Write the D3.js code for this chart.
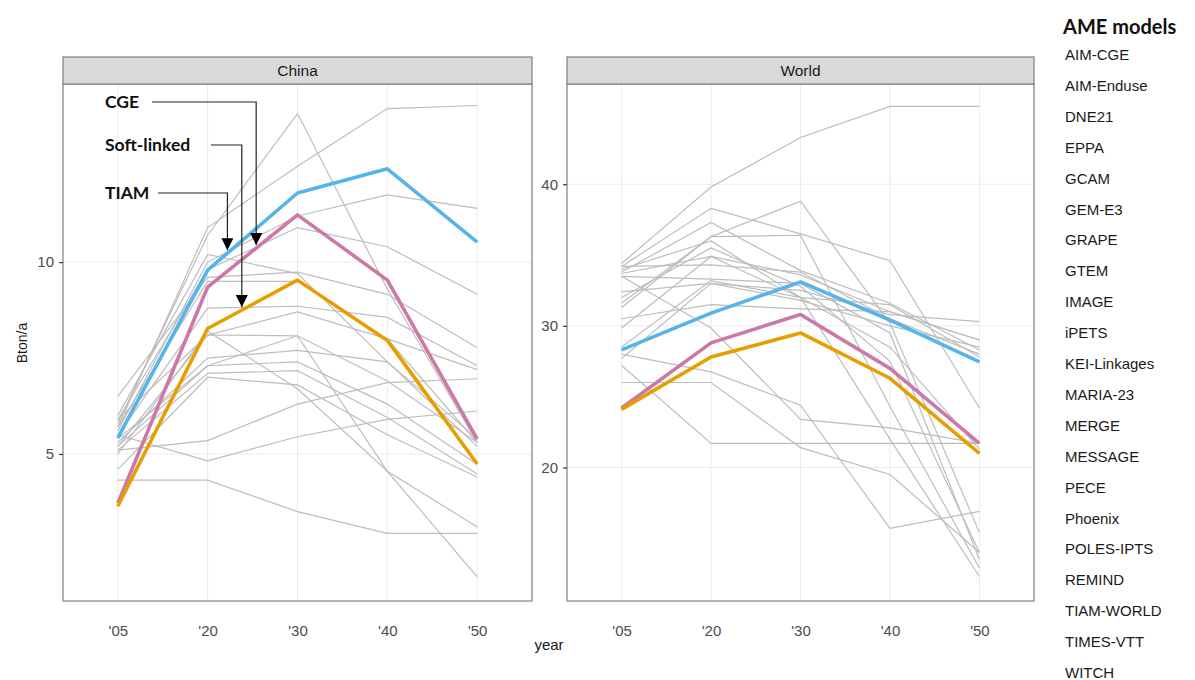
<!DOCTYPE html>
<html>
<head>
<meta charset="utf-8">
<script src="https://cdn.jsdelivr.net/npm/d3@7"></script>
<style>
  html, body { margin: 0; padding: 0; background: #fff; }
  svg { display: block; }
</style>
</head>
<body>
<svg id="chart" width="1195" height="680"></svg>
<script>
// ---------------- DATA ----------------
const years = ["'05", "'20", "'30", "'40", "'50"];
const panels = ["China", "World"];
const models = ["AIM-CGE", "AIM-Enduse", "DNE21", "EPPA", "GCAM", "GEM-E3", "GRAPE", "GTEM",
  "IMAGE", "iPETS", "KEI-Linkages", "MARIA-23", "MERGE", "MESSAGE", "PECE", "Phoenix",
  "POLES-IPTS", "REMIND", "TIAM-WORLD", "TIMES-VTT", "WITCH"];
const highlightNames = ["TIAM", "CGE", "Soft-linked"];

const chinaTicks = [5, 10];
const worldTicks = [20, 30, 40];

// highlighted series (Bton/a)
const chinaTIAM = [5.42, 9.79, 11.80, 12.43, 10.52];
const chinaCGE = [3.72, 9.35, 11.23, 9.53, 5.39];
const chinaSoft = [3.64, 8.27, 9.53, 7.96, 4.74];
const worldTIAM = [28.3, 30.9, 33.1, 30.4, 27.45];
const worldCGE = [24.2, 28.8, 30.8, 27.0, 21.7];
const worldSoft = [24.1, 27.8, 29.5, 26.3, 21.0];

// AME model ranges (grey lines)
const chinaGrey = [
  [5.7, 10.9, 12.5, 14.0, 14.08],
  [5.8, 10.7, 13.87, 9.3, 5.3],
  [5.6, 10.0, 11.2, 11.75, 11.4],
  [5.9, 9.8, 10.9, 10.4, 9.16],
  [6.5, 9.6, 9.74, 9.16, 7.77],
  [5.7, 9.5, 9.5, 8.0, 5.3],
  [5.5, 8.8, 8.85, 8.56, 7.3],
  [5.9, 8.1, 8.7, 8.0, 7.2],
  [5.4, 7.3, 8.08, 6.9, 5.3],
  [5.3, 7.5, 7.7, 7.4, 5.2],
  [5.2, 7.3, 7.4, 6.3, 4.73],
  [5.1, 7.1, 7.17, 5.95, 4.48],
  [5.0, 8.2, 6.7, 4.55, 3.1],
  [5.2, 8.1, 8.08, 4.55, 1.8],
  [5.1, 5.35, 6.3, 6.86, 6.96],
  [5.5, 4.82, 5.45, 5.9, 6.12],
  [4.32, 4.32, 3.5, 2.93, 2.93],
  [4.6, 7.0, 6.8, 5.5, 4.4],
  [6.0, 10.2, 9.7, 7.4, 5.4]
];
const worldGrey = [
  [34.4, 39.8, 43.3, 45.5, 45.5],
  [34.2, 38.3, 36.5, 34.6, 24.2],
  [31.6, 36.3, 38.8, 30.2, 15.4],
  [33.8, 37.3, 33.9, 31.6, 28.3],
  [31.3, 36.3, 36.4, 24.3, 12.9],
  [33.7, 34.9, 33.6, 31.0, 29.0],
  [34.2, 34.3, 33.8, 30.5, 28.0],
  [32.4, 33.0, 32.5, 30.8, 30.3],
  [29.85, 34.9, 32.0, 28.5, 21.3],
  [27.7, 33.0, 31.8, 30.0, 28.5],
  [30.5, 31.5, 31.2, 31.0, 29.0],
  [33.5, 29.85, 23.4, 22.8, 21.7],
  [27.2, 21.7, 21.7, 21.7, 21.7],
  [26.0, 26.0, 21.4, 19.5, 14.0],
  [28.0, 26.75, 24.4, 15.7, 16.9],
  [34.0, 36.0, 32.0, 22.0, 12.3],
  [33.5, 33.3, 33.0, 29.5, 13.5],
  [32.0, 35.5, 32.8, 27.5, 14.0],
  [28.5, 33.2, 32.0, 31.5, 27.8]
];

// ---------------- DRAW ----------------
const svg = d3.select("#chart");
const FONT = "'Liberation Sans', Arial, sans-serif";
const colors = { TIAM: "#56B4E9", CGE: "#CC79A7", "Soft-linked": "#E69F00" };

const stripTop = 57, stripBottom = 84, plotBottom = 601;
const panelDefs = [
  { name: "China", x0: 63, x1: 532, domain: [1.17, 14.64], ticks: chinaTicks, grey: chinaGrey,
    hi: { TIAM: chinaTIAM, CGE: chinaCGE, "Soft-linked": chinaSoft } },
  { name: "World", x0: 567, x1: 1034, domain: [10.57, 47.08], ticks: worldTicks, grey: worldGrey,
    hi: { TIAM: worldTIAM, CGE: worldCGE, "Soft-linked": worldSoft } }
];

panelDefs.forEach(p => {
  const x = d3.scalePoint().domain(years).range([p.x0, p.x1]).padding(0.61);
  const y = d3.scaleLinear().domain(p.domain).range([plotBottom, stripBottom]);
  const g = svg.append("g");

  g.append("rect").attr("x", p.x0).attr("y", stripBottom).attr("width", p.x1 - p.x0)
    .attr("height", plotBottom - stripBottom).attr("fill", "#fff");

  // grid
  g.selectAll(".vg").data(years).enter().append("line")
    .attr("x1", d => x(d)).attr("x2", d => x(d)).attr("y1", stripBottom).attr("y2", plotBottom)
    .attr("stroke", "#ebebeb").attr("stroke-width", 1);
  g.selectAll(".hg").data(p.ticks).enter().append("line")
    .attr("x1", p.x0).attr("x2", p.x1).attr("y1", d => y(d)).attr("y2", d => y(d))
    .attr("stroke", "#ebebeb").attr("stroke-width", 1);

  const line = d3.line().x((d, i) => x(years[i])).y(d => y(d));

  g.selectAll(".grey").data(p.grey).enter().append("path")
    .attr("d", line).attr("fill", "none").attr("stroke", "#bdbdbd").attr("stroke-width", 1.2);

  ["TIAM", "CGE", "Soft-linked"].forEach(k => {
    g.append("path").datum(p.hi[k]).attr("d", line).attr("fill", "none")
      .attr("stroke", colors[k]).attr("stroke-width", 3.6).attr("stroke-linejoin", "round");
  });

  g.append("rect").attr("x", p.x0).attr("y", stripBottom).attr("width", p.x1 - p.x0)
    .attr("height", plotBottom - stripBottom).attr("fill", "none").attr("stroke", "#7f7f7f").attr("stroke-width", 1.2);

  // strip
  g.append("rect").attr("x", p.x0).attr("y", stripTop).attr("width", p.x1 - p.x0)
    .attr("height", stripBottom - stripTop).attr("fill", "#d9d9d9").attr("stroke", "#7f7f7f").attr("stroke-width", 1.2);
  g.append("text").attr("x", (p.x0 + p.x1) / 2).attr("y", (stripTop + stripBottom) / 2 + 5.5)
    .attr("text-anchor", "middle").attr("font-family", FONT).attr("font-size", 15.5)
    .attr("fill", "#1a1a1a").text(p.name);

  // y axis
  const yAxis = d3.axisLeft(y).tickValues(p.ticks).tickSize(4).tickPadding(5).tickFormat(d3.format("d"));
  const ya = g.append("g").attr("transform", `translate(${p.x0},0)`).call(yAxis);
  ya.select(".domain").remove();
  ya.selectAll("line").attr("stroke", "#333").attr("stroke-width", 1.2);
  ya.selectAll("text").attr("font-family", FONT).attr("font-size", 15).attr("fill", "#4d4d4d");

  // x axis labels
  const xAxis = d3.axisBottom(x).tickSize(0).tickPadding(24);
  const xa = g.append("g").attr("transform", `translate(0,${plotBottom})`).call(xAxis);
  xa.select(".domain").remove();
  xa.selectAll("text").attr("font-family", FONT).attr("font-size", 15).attr("fill", "#4d4d4d");

  p.xs = x; p.ys = y;
});

// axis titles
svg.append("text").attr("x", 549).attr("y", 650).attr("text-anchor", "middle")
  .attr("font-family", FONT).attr("font-size", 15).attr("fill", "#1a1a1a").text("year");
svg.append("text").attr("transform", "translate(27,343) rotate(-90)").attr("text-anchor", "middle")
  .attr("font-family", FONT).attr("font-size", 14).attr("fill", "#1a1a1a").text("Bton/a");

// annotations (China panel)
const ANN = "Lato, 'Open Sans', sans-serif";
const ch = panelDefs[0];
const annos = [
  { name: "CGE", ty: 102, tx: 105, lx0: 152, kx: 0.54, series: chinaCGE },
  { name: "Soft-linked", ty: 145, tx: 105, lx0: 211, kx: 0.38, series: chinaSoft },
  { name: "TIAM", ty: 193, tx: 105, lx0: 158, kx: 0.22, series: chinaTIAM }
];
svg.append("defs").append("marker").attr("id", "arr").attr("viewBox", "0 0 10 10")
  .attr("refX", 10).attr("refY", 5).attr("markerWidth", 12).attr("markerHeight", 12)
  .attr("markerUnits", "userSpaceOnUse").attr("orient", "auto")
  .append("path").attr("d", "M0,0 L10,5 L0,10 z").attr("fill", "#000");
annos.forEach(a => {
  svg.append("text").attr("x", a.tx).attr("y", a.ty + 6).attr("font-family", ANN).attr("font-weight", 700)
    .attr("font-size", 17.5).attr("fill", "#111").text(a.name);
  const xa = ch.xs(years[1]), xb = ch.xs(years[2]);
  const ax = xa + (xb - xa) * a.kx;
  const ay = ch.ys(a.series[1] + (a.series[2] - a.series[1]) * a.kx) - 3;
  svg.append("path").attr("d", `M${a.lx0},${a.ty} H${ax} V${ay}`).attr("fill", "none")
    .attr("stroke", "#222").attr("stroke-width", 1.2).attr("marker-end", "url(#arr)");
});

// legend
svg.append("text").attr("x", 1063).attr("y", 34).attr("font-family", ANN).attr("font-weight", 700)
  .attr("font-size", 20).attr("fill", "#111").text("AME models");
svg.selectAll(".leg").data(models).enter().append("text")
  .attr("x", 1065).attr("y", (d, i) => 60 + i * 30.9)
  .attr("font-family", FONT).attr("font-size", 15).attr("fill", "#1a1a1a").text(d => d);
</script>
</body>
</html>
